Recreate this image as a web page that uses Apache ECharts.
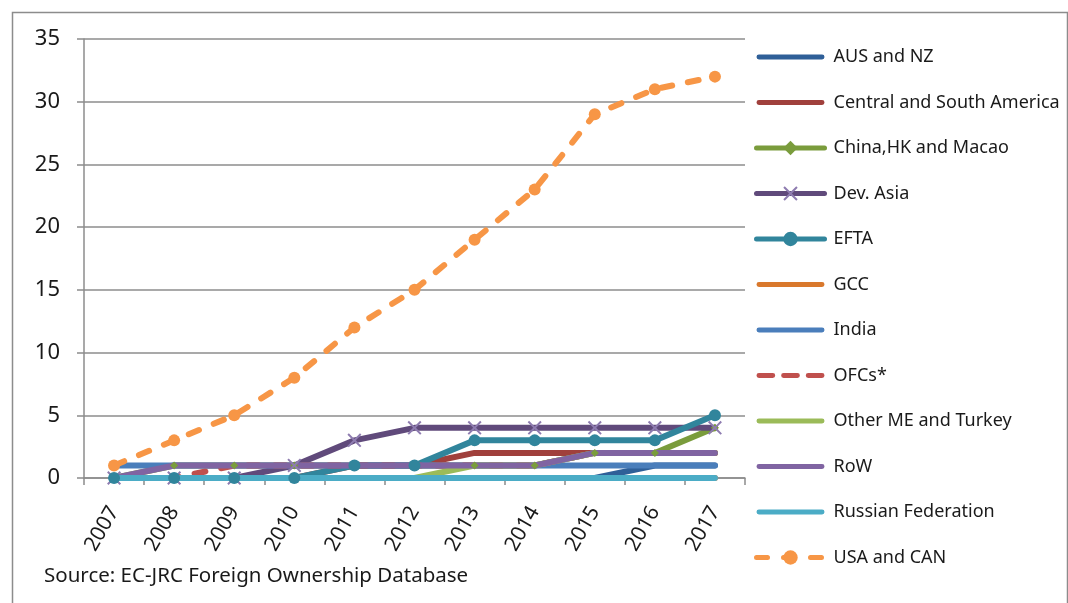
<!DOCTYPE html>
<html><head><meta charset="utf-8">
<script src="https://cdn.jsdelivr.net/npm/echarts@6/dist/echarts.min.js"></script>
<style>html,body{margin:0;padding:0;background:#fff}#c{width:1068px;height:603px}</style>
</head><body><div id="c"></div>
<script>
const years = ['2007','2008','2009','2010','2011','2012','2013','2014','2015','2016','2017'];
const yTicks = [0,5,10,15,20,25,30,35];
const ausNz      = [0,0,0,0,0,0,0,0,0,1,1];
const centralSA  = [0,0,0,0,1,1,2,2,2,2,2];
const chinaHK    = [0,1,1,1,1,1,1,1,2,2,4];
const devAsia    = [0,0,0,1,3,4,4,4,4,4,4];
const efta       = [0,0,0,0,1,1,3,3,3,3,5];
const gcc        = [0,0,0,0,0,0,0,0,0,0,0];
const india      = [1,1,1,1,1,1,1,1,1,1,1];
const ofcs       = [0,0,1,1,1,1,1,1,2,2,2];
const otherME    = [0,0,0,0,0,0,1,1,2,2,2];
const row        = [0,1,1,1,1,1,1,1,2,2,2];
const russia     = [0,0,0,0,0,0,0,0,0,0,0];
const usaCan     = [1,3,5,8,12,15,19,23,29,31,32];

const FONT = 'Noto Sans';
const xMark = 'path://M0,1L1,0L5,4L9,0L10,1L6,5L10,9L9,10L5,6L1,10L0,9L4,5Z';
const solidIcon = 'path://M0,0L0.01,0L0.01,0.01Z M2,6.5L66,6.5A2.5,2.5,0,0,1,66,11.5L2,11.5A2.5,2.5,0,0,1,2,6.5Z M0,18L0.01,18L0.01,17.99Z';
const dashIcon = 'path://M0,0L0.01,0L0.01,0.01Z M2,6.5L16,6.5A2.5,2.5,0,0,1,16,11.5L2,11.5A2.5,2.5,0,0,1,2,6.5Z M27,6.5L41,6.5A2.5,2.5,0,0,1,41,11.5L27,11.5A2.5,2.5,0,0,1,27,6.5Z M52,6.5L66,6.5A2.5,2.5,0,0,1,66,11.5L52,11.5A2.5,2.5,0,0,1,52,6.5Z M0,18L0.01,18L0.01,17.99Z';

function mk(name, data, color, opts) {
  opts = opts || {};
  return {
    name: name, type: 'line', data: data,
    lineStyle: {color: color, width: 6, type: opts.dash ? [11, 16] : 'solid', cap: 'round', join: 'round'},
    itemStyle: {color: opts.markColor || color},
    symbol: opts.symbol || 'none',
    symbolSize: opts.size || 8,
    showSymbol: !!opts.symbol,
    animation: false,
    emphasis: {disabled: true},
    _icon: opts.symbol ? null : (opts.dash ? dashIcon : solidIcon)
  };
}

const series = [
  mk('AUS and NZ', ausNz, '#2F5F98'),
  mk('Central and South America', centralSA, '#A0403C'),
  mk('China,HK and Macao', chinaHK, '#7A9C3C', {symbol: 'diamond', size: 8}),
  mk('Dev. Asia', devAsia, '#604A7B', {symbol: xMark, size: 14, markColor: '#8E7CB0'}),
  mk('EFTA', efta, '#31859C', {symbol: 'circle', size: 12}),
  mk('GCC', gcc, '#D9782C'),
  mk('India', india, '#4A7EBB'),
  mk('OFCs*', ofcs, '#C0504D', {dash: true}),
  mk('Other ME and Turkey', otherME, '#9BBB59'),
  mk('RoW', row, '#8064A2'),
  mk('Russian Federation', russia, '#4BACC6'),
  mk('USA and CAN', usaCan, '#F79646', {dash: true, symbol: 'circle', size: 12})
];
const legendData = series.map(s => s._icon ? {name: s.name, icon: s._icon} : {name: s.name});
series.forEach(s => delete s._icon);

const chart = echarts.init(document.getElementById('c'), null, {renderer: 'canvas'});
chart.setOption({
  animation: false,
  backgroundColor: '#fff',
  grid: {left: 84, top: 39, right: 323, bottom: 125, containLabel: false},
  xAxis: {
    type: 'category', data: years, boundaryGap: true,
    axisLine: {lineStyle: {color: '#8C8C8C', width: 1.5}},
    axisTick: {show: true, alignWithLabel: false, length: 7, lineStyle: {color: '#8C8C8C', width: 1.5}},
    axisLabel: {rotate: 60, fontFamily: FONT, fontSize: 21, color: '#1a1a1a', margin: 30}
  },
  yAxis: {
    type: 'value', min: yTicks[0], max: yTicks[yTicks.length-1], interval: 5,
    axisLine: {show: true, lineStyle: {color: '#8C8C8C', width: 1.5}},
    axisTick: {show: true, length: 7, lineStyle: {color: '#8C8C8C', width: 1.5}},
    axisLabel: {fontFamily: FONT, fontSize: 22, color: '#1a1a1a', margin: 24},
    splitLine: {lineStyle: {color: '#8C8C8C', width: 1.5}}
  },
  legend: {
    orient: 'vertical', left: 754, top: 48, padding: 0,
    itemWidth: 68, itemHeight: 18, itemGap: 27.5,
    lineStyle: {width: 5},
    itemStyle: {borderWidth: 0},
    textStyle: {fontFamily: FONT, fontSize: 18, color: '#1a1a1a', lineHeight: 18, padding: [0,0,0,4]},
    data: legendData,
    selectedMode: false
  },
  graphic: [
    {type: 'rect', left: 10, top: 10, shape: {width: 1055, height: 620}, style: {fill: 'none', stroke: '#8C8C8C', lineWidth: 1.5}, silent: true, z: -1},
    {type: 'text', left: 44, top: 566, style: {text: 'Source: EC-JRC Foreign Ownership Database', font: '20.5px "Noto Sans"', fill: '#1a1a1a'}}
  ],
  series: series
});
</script></body></html>
